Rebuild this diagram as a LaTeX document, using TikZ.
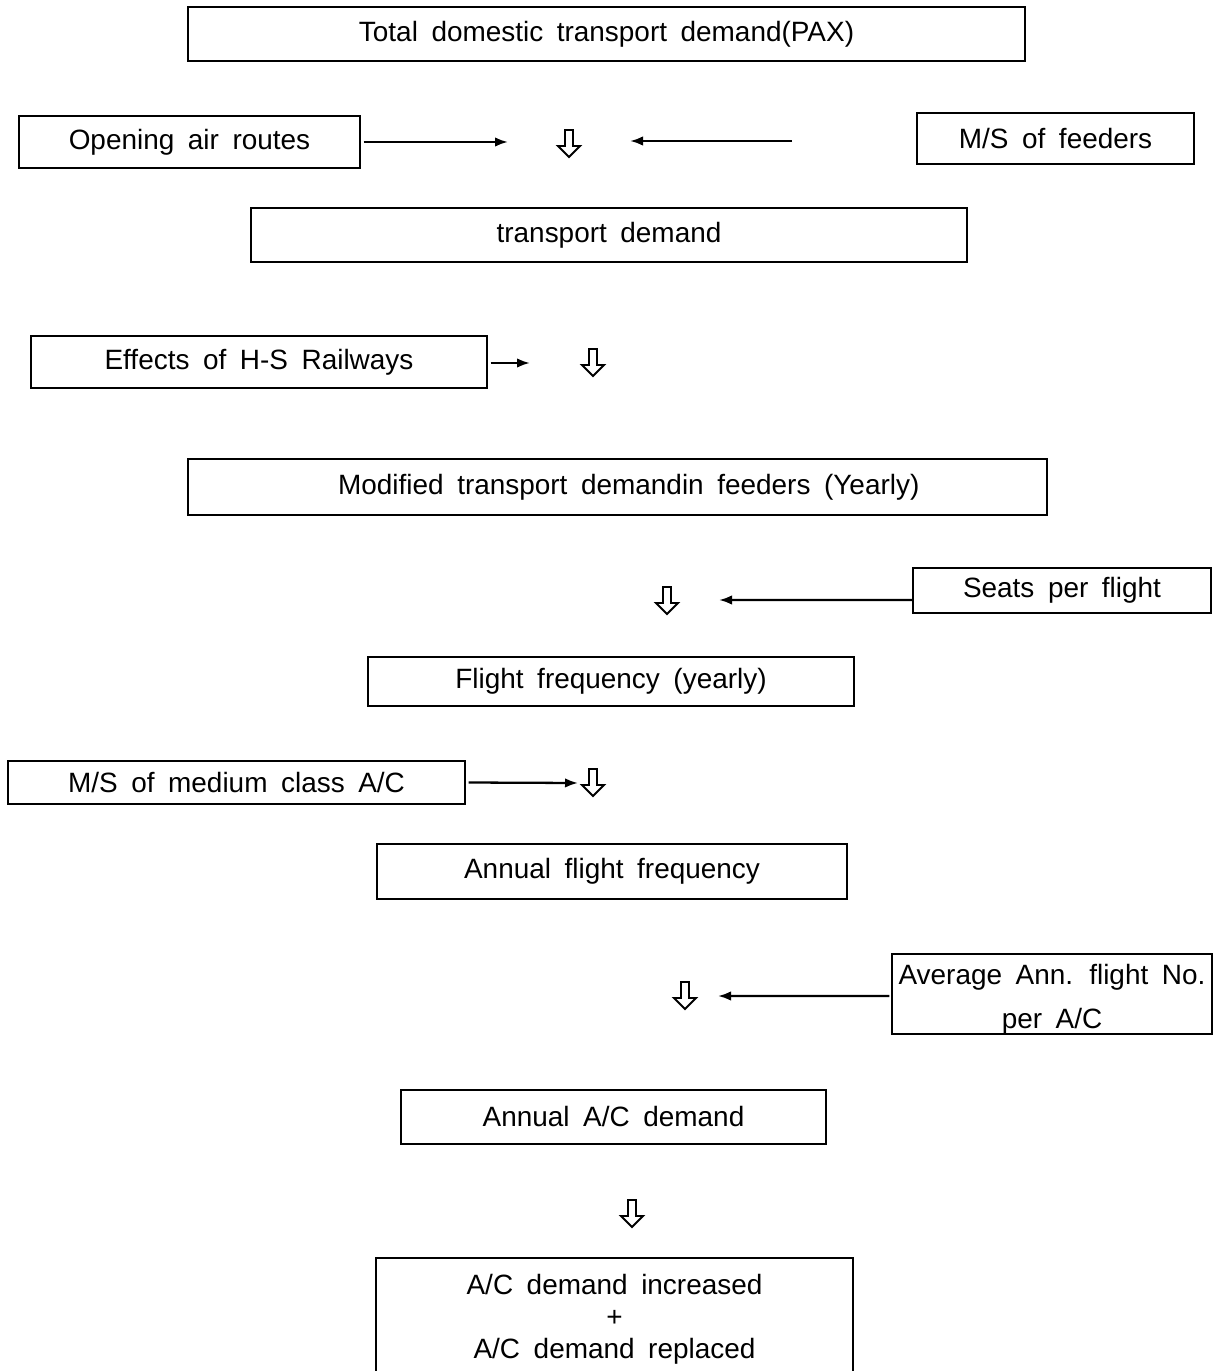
\documentclass[tikz,border=0pt]{standalone}
\usepackage{fontspec}
\setmainfont{Liberation Sans}[WordSpace=1.75]
\usetikzlibrary{arrows.meta}
\begin{document}
\begin{tikzpicture}[x=0.02cm,y=-0.02cm,
  txt/.style={font=\fontsize{15.9}{19}\selectfont},
  box/.style={draw, line width=0.8pt, inner sep=0pt, txt, align=center},
  harr/.style={inner sep=0pt, minimum width=0.58cm, minimum height=0.66cm,
    path picture={\draw[line width=1.1pt, line join=miter]
      ([shift={(-4,-13)}]path picture bounding box.center) -- ++(8,0) -- ++(0,16)
      -- ++(7,0) -- ++(-11,11) -- ++(-11,-11) -- ++(7,0) -- cycle;}},
  conn/.style={line width=1.3pt, -{Latex[length=0.26cm,width=0.19cm]}}
]
\clip (0,0) rectangle (1216,1371);
\useasboundingbox (0,0) rectangle (1216,1371);
\fill[white] (0,0) rectangle (1216,1371);

% boxes
\node[box, minimum width=837*0.02cm, minimum height=54*0.02cm] (total) at (606.5,34) {Total domestic transport demand(PAX)};
\node[box, minimum width=341*0.02cm, minimum height=52*0.02cm] (open) at (189.5,142) {Opening air routes};
\node[box, minimum width=277*0.02cm, minimum height=51*0.02cm] (msf) at (1055.5,138.5) {M/S of feeders};
\node[box, minimum width=716*0.02cm, minimum height=54*0.02cm] (td) at (609,235) {transport demand};
\node[box, minimum width=456*0.02cm, minimum height=52*0.02cm] (hs) at (259,362) {Effects of H-S Railways};
\node[box, minimum width=859*0.02cm, minimum height=56*0.02cm] (mod) at (617.5,487) {\hspace*{0.45cm}Modified transport demandin feeders (Yearly)};
\node[box, minimum width=298*0.02cm, minimum height=45*0.02cm] (seats) at (1062,590.5) {Seats per flight};
\node[box, minimum width=486*0.02cm, minimum height=49*0.02cm] (ff) at (611,681.5) {Flight frequency (yearly)};
\node[box, minimum width=457*0.02cm, minimum height=43*0.02cm] (msm) at (236.5,782.5) {M/S of medium class A/C};
\node[box, minimum width=470*0.02cm, minimum height=55*0.02cm] (aff) at (612,871.5) {Annual flight frequency};
\node[box, minimum width=320*0.02cm, minimum height=80*0.02cm] (avg) at (1052,994) {};
\node[txt, align=center, inner sep=0pt] (avgtext) at ([yshift=-0.1cm]avg.center) {Average Ann. flight No.\\[6.3pt]per A/C};
\node[box, minimum width=425*0.02cm, minimum height=54*0.02cm] (acd) at (613.5,1117) {Annual A/C demand};
\node[box, font=\fontsize{15.9}{18.1}\selectfont, minimum width=477*0.02cm, minimum height=122*0.02cm] (final) at (614.5,1319) {A/C demand increased\\+\\A/C demand replaced};

% hollow arrows
\node[harr] (h1) at (569,143) {};
\node[harr] (h2) at (593,362) {};
\node[harr] (h3) at (667,600) {};
\node[harr] (h4) at (593,782) {};
\node[harr] (h5) at (685,995) {};
\node[harr] (h6) at (632,1213) {};

% arrow ends
\coordinate (e1) at (508,142);
\coordinate (e2) at (630,141);
\coordinate (e3) at (530,363);
\coordinate (e4) at (719,600);
\coordinate (e5) at (578,783);
\coordinate (e6) at (718,996);
\coordinate (s2) at (792,141);

% connectors
\draw[conn] ([xshift=0.06cm]open.east) -- (e1);
\draw[conn] (s2) -- (e2);
\draw[conn] ([xshift=0.06cm,yshift=-0.02cm]hs.east) -- (e3);
\draw[conn] ([yshift=-0.19cm]seats.west) -- (e4);
\draw[conn] ([xshift=0.06cm]msm.east) -- (e5);
\draw[conn] ([xshift=-0.04cm,yshift=-0.04cm]avg.west) -- (e6);
\end{tikzpicture}
\end{document}
